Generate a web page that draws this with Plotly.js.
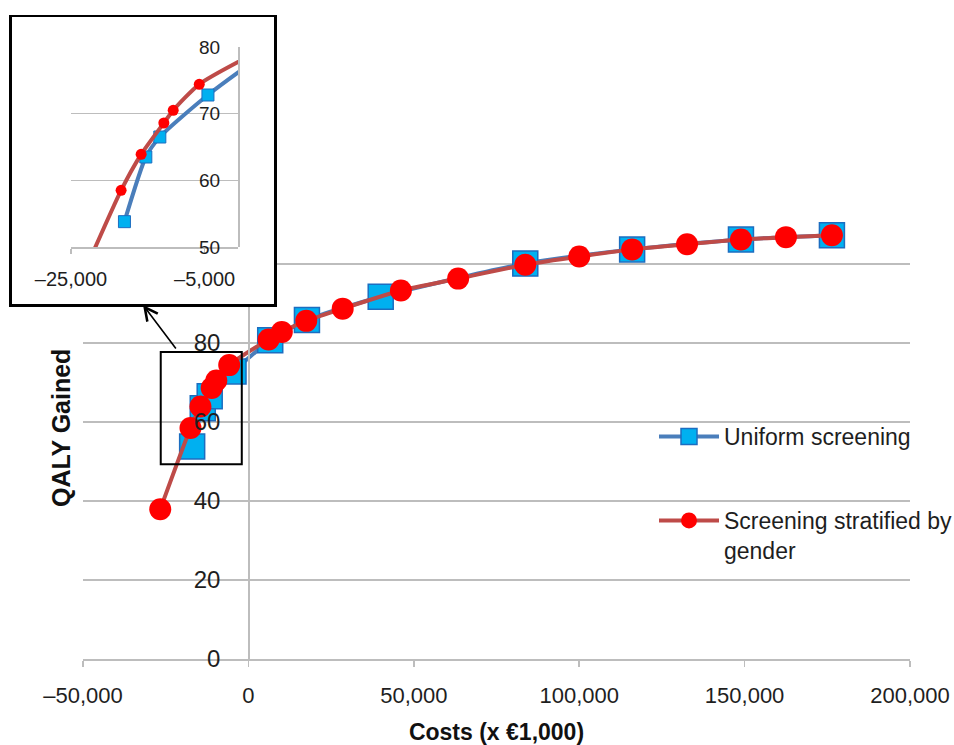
<!DOCTYPE html>
<html>
<head>
<meta charset="utf-8">
<script src="https://cdn.plot.ly/plotly-3.0.1.min.js"></script>
<style>html,body{margin:0;padding:0;background:#fff;}#chart{width:954px;height:745px;}</style>
</head>
<body>
<div id="chart"></div>
<script>
// ---- data (costs in x EUR 1,000 ; QALY gained) ----
const costsUniform = [-17000, -13800, -11700, -4500, 6600, 17700, 40000, 83700, 116000, 148900, 176400];
const qalyUniform  = [53.8, 63.5, 66.5, 72.8, 80.7, 85.8, 91.7, 100.1, 103.7, 106.2, 107.3];

const costsStratified = [-26650, -17500, -14500, -11100, -9700, -5800, 6100, 10100, 17500, 28500, 46100, 63400, 83700, 100000, 116000, 132600, 148900, 162500, 176400];
const qalyStratified  = [37.9, 58.5, 63.9, 68.6, 70.5, 74.4, 80.9, 82.8, 85.6, 88.7, 93.3, 96.3, 99.8, 101.9, 103.7, 105.0, 106.2, 106.8, 107.3];

const seriesNames = ['Uniform screening', 'Screening stratified by<br>gender'];

const xTickVals = [-50000, 0, 50000, 100000, 150000, 200000];
const xTickText = ['–50,000', '0', '50,000', '100,000', '150,000', '200,000'];
// labels 100 and 120 are hidden behind the inset in the original
const yTickVals = [0, 20, 40, 60, 80, 100, 120];
const yTickText = ['0', '20', '40', '60', '80', '', ''];

const insetXTickVals = [-25000, -5000];
const insetXTickText = ['–25,000', '–5,000'];
const insetYTickVals = [50, 60, 70, 80];

// ---- styles ----
const FONT = 'Liberation Sans, Arial, sans-serif';
const GRID = '#BDBDBD';
const TXT = '#1e1e1e';
const blueLine = '#4A7EBB', blueFill = '#00B0F0', blueEdge = '#1C6DC0';
const redLine = '#BE4B48', redFill = '#FF0000';

const traces = [
  { x: costsUniform, y: qalyUniform, name: seriesNames[0], type: 'scatter', mode: 'lines+markers',
    line: {color: blueLine, width: 4, shape: 'spline', smoothing: 0.6},
    marker: {symbol: 'square', size: 25, color: blueFill, line: {color: blueEdge, width: 1.5}},
    xaxis: 'x', yaxis: 'y', legend: 'legend' },
  { x: costsStratified, y: qalyStratified, name: seriesNames[1], type: 'scatter', mode: 'lines+markers',
    line: {color: redLine, width: 4, shape: 'spline', smoothing: 0.6},
    marker: {symbol: 'circle', size: 22, color: redFill},
    xaxis: 'x', yaxis: 'y', legend: 'legend2' },
  // inset frame subplot (empty)
  { x: [], y: [], type: 'scatter', mode: 'markers', xaxis: 'x2', yaxis: 'y2', showlegend: false, hoverinfo: 'skip' },
  // inset zoom
  { x: costsUniform, y: qalyUniform, name: seriesNames[0], type: 'scatter', mode: 'lines+markers',
    line: {color: blueLine, width: 4, shape: 'spline', smoothing: 0.6},
    marker: {symbol: 'square', size: 12, color: blueFill, line: {color: blueEdge, width: 1}},
    xaxis: 'x3', yaxis: 'y3', showlegend: false },
  { x: costsStratified, y: qalyStratified, name: seriesNames[1], type: 'scatter', mode: 'lines+markers',
    line: {color: redLine, width: 4, shape: 'spline', smoothing: 0.6},
    marker: {symbol: 'circle', size: 11, color: redFill},
    xaxis: 'x3', yaxis: 'y3', showlegend: false }
];

const W = 954, H = 745, ML = 10, MR = 44, MT = 15, MB = 86;
const PW = W - ML - MR, PH = H - MT - MB;
const px = v => (v - ML) / PW;          // page x -> paper
const py = v => (H - MB - v) / PH;      // page y -> paper

const layout = {
  width: W, height: H,
  margin: {l: ML, r: MR, t: MT, b: MB, autoexpand: false},
  paper_bgcolor: '#fff', plot_bgcolor: '#fff',
  font: {family: FONT, color: TXT, size: 22},
  showlegend: true,
  xaxis: {
    domain: [px(83), 1], range: [-50000, 200000], anchor: 'y',
    tickvals: xTickVals, ticktext: xTickText,
    showgrid: false, zeroline: false,
    showline: true, linecolor: GRID, linewidth: 1.5,
    ticks: 'outside', ticklen: 6, tickcolor: GRID, tickwidth: 1.5,
    ticklabelstandoff: 10,
    tickfont: {size: 22, family: FONT, color: TXT},
    title: {text: 'Costs (x €1,000)', font: {family: FONT, size: 23, color: '#111', weight: 'bold'}, standoff: 21}
  },
  yaxis: {
    domain: [0, py(184.2)], range: [0, 120.2], anchor: 'free', position: px(248.2),
    tickvals: yTickVals, ticktext: yTickText,
    showgrid: true, gridcolor: GRID, gridwidth: 1.5,
    zeroline: false, showline: true, linecolor: GRID, linewidth: 1.5,
    ticks: '', ticklabelstandoff: 23,
    tickfont: {size: 24, family: FONT, color: TXT}
  },
  xaxis2: {
    domain: [px(11.7), px(274)], range: [0, 1], anchor: 'y2',
    showgrid: false, zeroline: false, showticklabels: false, ticks: '',
    showline: true, mirror: true, linecolor: '#000', linewidth: 2.5, fixedrange: true
  },
  yaxis2: {
    domain: [py(304), py(17.3)], range: [0, 1], anchor: 'x2',
    showgrid: false, zeroline: false, showticklabels: false, ticks: '',
    showline: true, mirror: true, linecolor: '#000', linewidth: 2.5, fixedrange: true
  },
  xaxis3: {
    domain: [px(71), px(238)], range: [-25000, 0], anchor: 'y3',
    tickvals: insetXTickVals, ticktext: insetXTickText,
    showgrid: false, zeroline: false,
    showline: true, linecolor: GRID, linewidth: 1.5,
    ticks: 'outside', ticklen: 5, tickcolor: GRID, tickwidth: 1.5,
    ticklabelstandoff: 8,
    tickfont: {size: 20, family: FONT, color: TXT}
  },
  yaxis3: {
    domain: [py(247), py(47)], range: [50, 80], anchor: 'free', position: px(238),
    tickvals: insetYTickVals,
    showgrid: true, gridcolor: GRID, gridwidth: 1.5,
    zeroline: false, showline: true, linecolor: GRID, linewidth: 1.5,
    ticks: '', ticklabelstandoff: 14,
    tickfont: {size: 19, family: FONT, color: TXT}
  },
  legend: {
    x: px(654), xanchor: 'left', y: py(415), yanchor: 'top',
    bgcolor: 'rgba(0,0,0,0)', borderwidth: 0,
    font: {size: 23, family: FONT, color: TXT}, itemwidth: 60
  },
  legend2: {
    x: px(654), xanchor: 'left', y: py(499), yanchor: 'top', valign: 'top',
    bgcolor: 'rgba(0,0,0,0)', borderwidth: 0,
    font: {size: 23, family: FONT, color: TXT}, itemwidth: 60
  },
  shapes: [
    { type: 'rect', xref: 'x', yref: 'y', x0: -26500, x1: -2000, y0: 49.3, y1: 77.7,
      line: {color: '#000', width: 2}, fillcolor: 'rgba(0,0,0,0)', layer: 'above' }
  ],
  annotations: [
    { xref: 'paper', yref: 'paper', x: px(61), y: py(428), xanchor: 'center', yanchor: 'middle',
      text: 'QALY Gained', textangle: -90,
      showarrow: false, font: {family: FONT, size: 25, color: '#111', weight: 'bold'} },
    { xref: 'paper', yref: 'paper', x: px(143), y: py(305), ax: 34, ay: 45, text: '',
      showarrow: true, arrowhead: 5, arrowsize: 1.6, arrowwidth: 1.6, arrowcolor: '#000' }
  ]
};

Plotly.newPlot('chart', traces, layout, {displayModeBar: false, staticPlot: true});
</script>
</body>
</html>
